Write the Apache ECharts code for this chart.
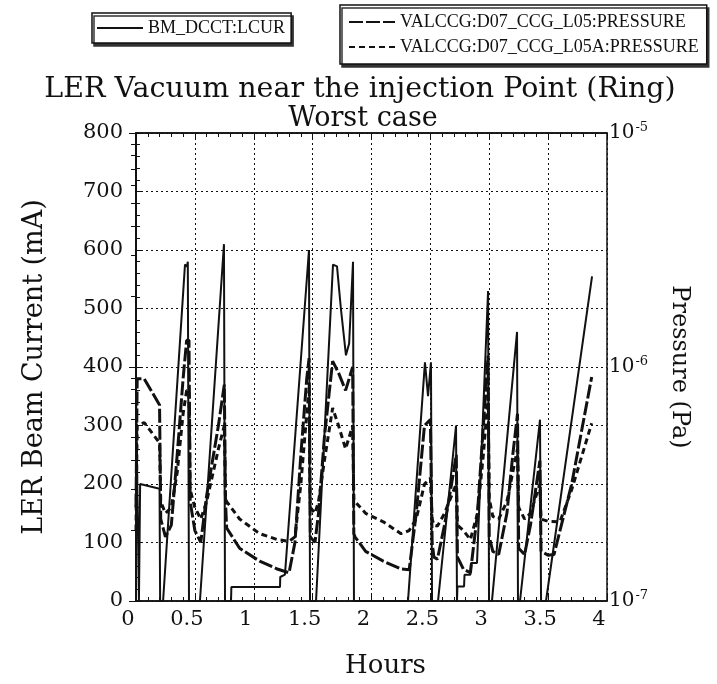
<!DOCTYPE html>
<html><head><meta charset="utf-8">
<script src="https://cdn.jsdelivr.net/npm/echarts@6/dist/echarts.min.js"></script>
<style>html,body{margin:0;padding:0;background:#fff}#c{width:717px;height:684px}</style>
</head><body><div id="c"></div>
<script>
// ---- data ----
const xTicks = ['0','0.5','1','1.5','2','2.5','3','3.5','4'];
const rightTicks = ['10^-7','10^-6','10^-5'];
const logMinorTicks = [2e-7,3e-7,4e-7,5e-7,6e-7,7e-7,8e-7,9e-7,2e-6,3e-6,4e-6,5e-6,6e-6,7e-6,8e-6,9e-6];

const curHours = [0,0.025,0.03,0.035,0.2,0.205,0.23,0.416,0.433,0.44,0.45,0.543,0.747,0.756,0.807,0.81,1.223,1.225,1.265,1.469,1.478,1.529,1.673,1.707,1.74,1.783,1.81,1.843,1.851,2.31,2.454,2.48,2.505,2.514,2.565,2.718,2.726,2.73,2.786,2.79,2.84,2.845,2.896,2.99,2.998,3.023,3.236,3.244,3.261,3.431,3.44,3.482,3.873];
const curMA = [360,0,0,200,192,0,0,575,572,580,0,0,610,0,0,24,24,41,45,600,0,0,575,572,500,420,440,580,0,0,408,350,408,0,0,300,0,25,25,45,45,65,65,530,0,0,460,0,0,310,0,0,555];

const l05Hours = [0,0.01,0.07,0.2,0.21,0.25,0.3,0.35,0.4,0.43,0.45,0.46,0.5,0.55,0.6,0.7,0.75,0.76,0.77,0.88,1.05,1.2,1.3,1.35,1.4,1.45,1.47,1.48,1.52,1.55,1.6,1.67,1.72,1.78,1.84,1.85,1.86,1.95,2.1,2.25,2.32,2.38,2.45,2.5,2.515,2.53,2.56,2.62,2.68,2.72,2.73,2.78,2.84,2.9,2.95,2.99,3.0,3.03,3.08,3.15,3.2,3.24,3.25,3.3,3.35,3.43,3.44,3.5,3.55,3.7,3.87];
const l05Pa = [2.51e-7,8.91e-7,8.91e-7,6.88e-7,2.24e-7,1.88e-7,2.11e-7,4.22e-7,8.91e-7,1.30e-6,1.30e-6,2.66e-7,2.00e-7,1.78e-7,2.82e-7,5.62e-7,8.41e-7,2.66e-7,2.05e-7,1.68e-7,1.48e-7,1.37e-7,1.32e-7,1.78e-7,4.22e-7,8.91e-7,1.09e-6,1.88e-7,1.78e-7,2.37e-7,5.01e-7,1.06e-6,9.44e-7,7.94e-7,1.00e-6,1.94e-7,1.88e-7,1.63e-7,1.48e-7,1.37e-7,1.36e-7,2.37e-7,5.62e-7,5.96e-7,1.78e-7,1.54e-7,1.51e-7,2.11e-7,3.16e-7,4.22e-7,1.54e-7,1.37e-7,1.32e-7,2.37e-7,5.62e-7,1.12e-6,1.88e-7,1.63e-7,1.58e-7,2.37e-7,4.22e-7,6.31e-7,1.68e-7,1.58e-7,2.11e-7,3.98e-7,1.63e-7,1.57e-7,1.58e-7,3.16e-7,9.07e-7];

const l05aHours = [0,0.01,0.07,0.2,0.21,0.25,0.3,0.35,0.4,0.43,0.45,0.46,0.5,0.55,0.6,0.7,0.75,0.76,0.77,0.88,1.05,1.2,1.3,1.35,1.4,1.45,1.47,1.48,1.52,1.55,1.6,1.67,1.72,1.78,1.84,1.85,1.86,1.95,2.1,2.25,2.32,2.38,2.45,2.5,2.515,2.53,2.56,2.62,2.68,2.72,2.73,2.78,2.84,2.9,2.95,2.99,3.0,3.03,3.08,3.15,3.2,3.24,3.25,3.3,3.35,3.43,3.44,3.5,3.6,3.7,3.87];
const l05aPa = [2.00e-7,5.62e-7,5.79e-7,4.73e-7,2.66e-7,2.37e-7,2.51e-7,3.55e-7,6.31e-7,7.94e-7,7.94e-7,2.99e-7,2.51e-7,2.24e-7,2.66e-7,4.47e-7,5.62e-7,2.74e-7,2.66e-7,2.24e-7,1.94e-7,1.83e-7,1.80e-7,1.88e-7,3.16e-7,6.31e-7,7.94e-7,2.51e-7,2.37e-7,2.66e-7,3.98e-7,6.68e-7,5.62e-7,4.47e-7,5.62e-7,2.74e-7,2.66e-7,2.37e-7,2.18e-7,1.94e-7,2.00e-7,2.24e-7,3.16e-7,3.35e-7,2.24e-7,2.11e-7,2.09e-7,2.37e-7,2.82e-7,3.16e-7,2.11e-7,2.00e-7,1.83e-7,2.37e-7,4.22e-7,7.50e-7,2.74e-7,2.30e-7,2.24e-7,2.66e-7,3.55e-7,4.47e-7,2.51e-7,2.24e-7,2.37e-7,3.16e-7,2.24e-7,2.19e-7,2.18e-7,2.99e-7,5.75e-7];

const zip = (a, b) => a.map((v, i) => [v, b[i]]);
const F = 'DejaVu Serif';
const LF = 'Liberation Serif';
const INK = '#111';

const tickOnly = (extra) => Object.assign({
  gridIndex: 1, axisLine: {show: false}, splitLine: {show: false}, axisLabel: {show: false},
  axisTick: {show: true, inside: true, length: 4, lineStyle: {color: INK}}
}, extra);

// fine category scale (steps of a decade above 1e-7) used only to place log-style minor ticks
const STEPS = 2000;
const logSlots = Array.from({length: STEPS + 1}, (_, i) => String(i));
const logTickIdx = new Set(logMinorTicks.map(v => Math.round(Math.log10(v / 1e-7) * STEPS / 2)));

const legendBase = {
  borderColor: INK, borderWidth: 1.5, shadowColor: '#333', shadowOffsetX: 2, shadowOffsetY: 3, shadowBlur: 0,
  backgroundColor: '#fff', orient: 'vertical', itemWidth: 46, itemHeight: 10,
  itemStyle: {color: 'transparent', borderColor: 'transparent', borderWidth: 0},
  textStyle: {fontFamily: LF, fontSize: 18, color: INK}
};
const gridBox = {left: 136, right: 110, top: 133, bottom: 83};

const chart = echarts.init(document.getElementById('c'), null, {renderer: 'canvas'});
chart.setOption({
  backgroundColor: '#fff',
  animation: false,
  title: [
    {text: 'LER Vacuum near the injection Point (Ring)', left: 355, top: 70, textAlign: 'center',
     textStyle: {fontFamily: F, fontSize: 28.5, fontWeight: 'normal', color: INK}},
    {text: 'Worst case', left: 358, top: 100, textAlign: 'center',
     textStyle: {fontFamily: F, fontSize: 27, fontWeight: 'normal', color: INK}}
  ],
  legend: [
    Object.assign({}, legendBase, {data: ['BM_DCCT:LCUR'], left: 92, top: 13, padding: [6, 6, 6, 4], itemGap: 4}),
    Object.assign({}, legendBase, {data: ['VALCCG:D07_CCG_L05:PRESSURE', 'VALCCG:D07_CCG_L05A:PRESSURE'],
      left: 340, top: 5, padding: [8, 8, 8, 8], itemGap: 7})
  ],
  grid: [
    Object.assign({show: true, borderColor: INK, borderWidth: 1.5, backgroundColor: 'transparent'}, gridBox),
    Object.assign({show: false}, gridBox)
  ],
  xAxis: [
    {type: 'value', gridIndex: 0, min: 0, max: 4, interval: 0.5, position: 'bottom',
     name: 'Hours', nameLocation: 'middle', nameGap: 52,
     nameTextStyle: {fontFamily: F, fontSize: 26, color: INK, padding: [0, 0, 0, 28]},
     axisLine: {show: true, lineStyle: {color: INK, width: 1.5}},
     axisTick: {show: true, inside: true, length: 7, lineStyle: {color: INK}},
     splitLine: {show: true, lineStyle: {color: INK, type: [2, 3], width: 1}},
     axisLabel: {fontFamily: F, fontSize: 21, color: INK, margin: 8, padding: [0, 16, 0, 0],
       formatter: (v) => { const i = Math.round(v / 0.5); return xTicks[i] !== undefined ? xTicks[i] : ''; }}},
    {type: 'value', gridIndex: 0, min: 0, max: 4, interval: 0.5, position: 'top',
     axisLine: {show: true, lineStyle: {color: INK, width: 1.5}},
     axisTick: {show: true, inside: true, length: 7, lineStyle: {color: INK}},
     splitLine: {show: false}, axisLabel: {show: false}},
    tickOnly({type: 'value', min: 0, max: 4, interval: 0.1, position: 'bottom'}),
    tickOnly({type: 'value', min: 0, max: 4, interval: 0.1, position: 'top'})
  ],
  yAxis: [
    {type: 'value', gridIndex: 0, min: 0, max: 800, interval: 100, position: 'left',
     name: 'LER Beam Current (mA)', nameLocation: 'middle', nameGap: 88, nameRotate: 90,
     nameTextStyle: {fontFamily: F, fontSize: 27, color: INK},
     axisLine: {show: true, lineStyle: {color: INK, width: 1.5}},
     axisTick: {show: true, inside: true, length: 7, lineStyle: {color: INK}},
     splitLine: {show: true, lineStyle: {color: INK, type: [2, 3], width: 1}},
     axisLabel: {fontFamily: F, fontSize: 21, color: INK, margin: 13}},
    {type: 'log', gridIndex: 0, logBase: 10, min: 1e-7, max: 1e-5, position: 'right',
     name: 'Pressure (Pa)', nameLocation: 'middle', nameGap: 60, nameRotate: -90,
     nameTextStyle: {fontFamily: F, fontSize: 24, color: INK},
     axisLine: {show: true, lineStyle: {color: INK, width: 1.5}},
     axisTick: {show: true, inside: true, length: 7, lineStyle: {color: INK}},
     splitLine: {show: false},
     axisLabel: {color: INK, margin: 2, verticalAlign: 'middle',
       formatter: (v) => { const e = Math.round(Math.log10(v)); const t = rightTicks[e + 7]; if (!t) return ''; const p = t.split('^'); return '{b|' + p[0] + '}{s|' + p[1] + '}'; },
       rich: {b: {fontFamily: F, fontSize: 20, color: INK}, s: {fontFamily: F, fontSize: 13, color: INK, verticalAlign: 'top', padding: [0, 0, 10, 1]}}}},
    tickOnly({type: 'value', min: 0, max: 800, interval: 20, position: 'left'}),
    tickOnly({type: 'category', data: logSlots, boundaryGap: false, position: 'right',
      axisTick: {show: true, inside: true, length: 5, lineStyle: {color: INK}, interval: (idx) => logTickIdx.has(idx)}})
  ],
  series: [
    {name: 'BM_DCCT:LCUR', type: 'line', xAxisIndex: 0, yAxisIndex: 0, showSymbol: false, symbol: 'none',
     data: zip(curHours, curMA), lineStyle: {color: INK, width: 2}, itemStyle: {color: INK}, z: 3},
    {name: 'VALCCG:D07_CCG_L05:PRESSURE', type: 'line', xAxisIndex: 0, yAxisIndex: 1, showSymbol: false, symbol: 'none',
     data: zip(l05Hours, l05Pa), lineStyle: {color: INK, width: 3, type: [14, 3]}, itemStyle: {color: INK}, z: 2},
    {name: 'VALCCG:D07_CCG_L05A:PRESSURE', type: 'line', xAxisIndex: 0, yAxisIndex: 1, showSymbol: false, symbol: 'none',
     data: zip(l05aHours, l05aPa), lineStyle: {color: INK, width: 3, type: [6, 4]}, itemStyle: {color: INK}, z: 2}
  ]
});
</script></body></html>
